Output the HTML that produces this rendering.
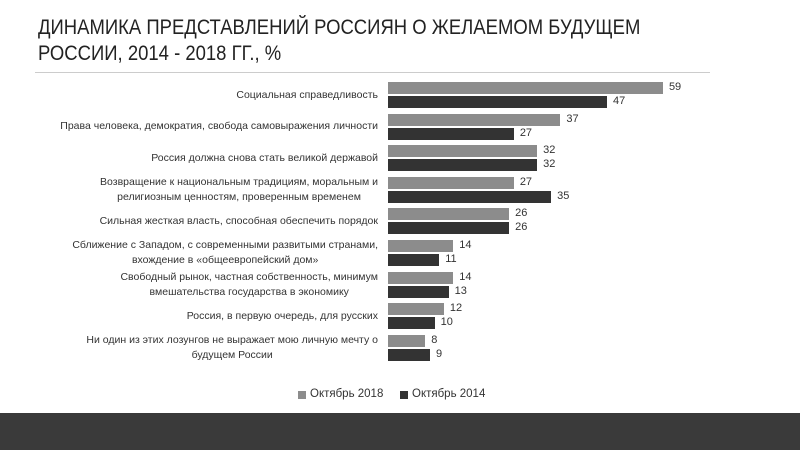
<!DOCTYPE html>
<html><head><meta charset="utf-8"><style>
body{margin:0;width:800px;height:450px;background:#fff;overflow:hidden;position:relative;font-family:"Liberation Sans",sans-serif;color:#333}
.t{position:absolute;left:38px;font-size:21px;white-space:nowrap;transform-origin:0 0;transform:scaleX(0.88);color:#222}
.lab{position:absolute;left:30px;width:348px;height:26px;display:flex;align-items:center;justify-content:flex-end;text-align:center;font-size:10.5px;line-height:15px;color:#333}
.lab span{display:block}
.bar{position:absolute;left:388px;height:12px}
.g{background:#8c8c8c}.d{background:#333}
.v{position:absolute;font-size:11px;color:#333}
</style></head><body>
<div class="t" style="top:16px">ДИНАМИКА ПРЕДСТАВЛЕНИЙ РОССИЯН О ЖЕЛАЕМОМ БУДУЩЕМ</div>
<div class="t" style="top:42px">РОССИИ, 2014 - 2018 ГГ., %</div>
<div style="position:absolute;left:35px;top:72px;width:675px;height:1px;background:#ccc"></div>
<div id="c"></div>
<div style="position:absolute;left:298px;top:391px;width:8px;height:8px;background:#8c8c8c"></div>
<div class="v" style="left:310px;top:388px;font-size:11.5px">Октябрь 2018</div>
<div style="position:absolute;left:400px;top:391px;width:8px;height:8px;background:#333"></div>
<div class="v" style="left:412px;top:388px;font-size:11.5px">Октябрь 2014</div>
<div style="position:absolute;left:0;top:413px;width:800px;height:37px;background:#3a3a3a"></div>
<script>
var d=[["Социальная справедливость",59,47],["Права человека, демократия, свобода самовыражения личности",37,27],["Россия должна снова стать великой державой",32,32],["Возвращение к национальным традициям, моральным и<br>религиозным ценностям, проверенным временем",27,35],["Сильная жесткая власть, способная обеспечить порядок",26,26],["Сближение с Западом, с современными развитыми странами,<br>вхождение в «общеевропейский дом»",14,11],["Свободный рынок, частная собственность, минимум<br>вмешательства государства в экономику",14,13],["Россия, в первую очередь, для русских",12,10],["Ни один из этих лозунгов не выражает мою личную мечту о<br>будущем России",8,9]];
var h="";d.forEach(function(r,i){var y=82+i*31.6;
h+='<div class="lab" style="top:'+y+'px"><span>'+r[0]+'</span></div>';
[[r[1],'g',0],[r[2],'d',14]].forEach(function(b){var w=b[0]*4.66;
h+='<div class="bar '+b[1]+'" style="top:'+(y+b[2])+'px;width:'+w+'px"></div><div class="v" style="left:'+(388+w+6)+'px;top:'+(y+b[2]-1)+'px">'+b[0]+'</div>';});});
document.getElementById('c').innerHTML=h;
</script>
</body></html>
